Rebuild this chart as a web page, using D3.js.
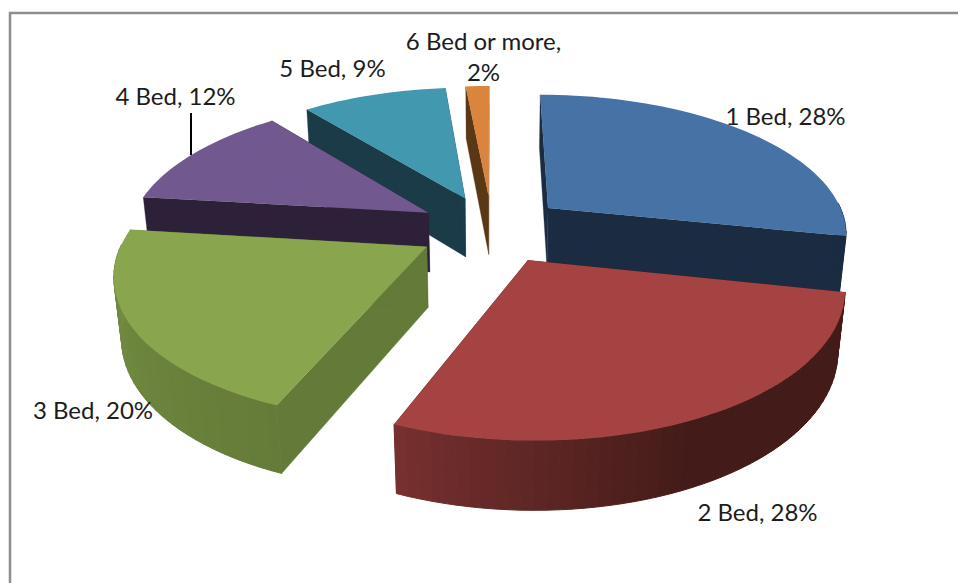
<!DOCTYPE html>
<html><head><meta charset="utf-8">
<style>html,body{margin:0;padding:0;background:#fff;overflow:hidden}svg{display:block}text{font-family:Lato,sans-serif;fill:#1c1c1c}</style>
<script src="https://cdn.jsdelivr.net/npm/d3@7"></script></head><body>
<svg id="c" width="958" height="583"></svg>
<script>
const categories = ["1 Bed","2 Bed","3 Bed","4 Bed","5 Bed","6 Bed or more"];
const shares = [28.3,27.9,20.7,12.3,9.3,1.5];
const printed = [28,28,20,12,9,2];
const topColors = ["#4672a6","#a44342","#89a54e","#71588f","#4298af","#db843d"];
const cutColors = ["#1b2c42","#431b18","#647a38","#2c2139","#1a3b47","#5b3815"];
const rimNear = ["#1b2c42","#763030","#758f42","#2c2139","#1a3b47","#5b3815"];
const rimFar = ["#1b2c42","#431b18","#657b38","#2c2139","#1a3b47","#5b3815"];

// Layout
const W=958,H=583,cx=492,cy=229,R=300,explode=74,depth=69,tilt=0.48,f=1600;
const paintOrder=[5,4,0,3,2,1];
const labelLayout=[
 {x:[785.5],y:[125]},
 {x:[757.5],y:[521]},
 {x:[93],y:[419]},
 {x:[175.5],y:[105]},
 {x:[332.5],y:[77]},
 {x:[483.5,483.5],y:[50,81]}];

const svg=d3.select("#c");
const st=Math.sin(tilt),ct=Math.cos(tilt);
function project(X,Y,Z){
  const u=-Y*st+Z*ct,w=Y*ct+Z*st,s=f/(f-w);
  return [cx+s*X,cy-s*u];
}
const pie=d3.pie().sort(null).value(d=>d)(shares);
const line=d3.line().curve(d3.curveLinear);
const poly=p=>line(p)+"Z";

// frame
svg.append("path").attr("d",line([[10,H],[10,13],[W,13]])).attr("fill","none").attr("stroke","#8e8e8e").attr("stroke-width",2.5);

const slices=pie.map((p,i)=>{
  const mid=(p.startAngle+p.endAngle)/2;
  const ox=explode*Math.sin(mid),oy=-explode*Math.cos(mid);
  const P=(a,r,z)=>project(ox+r*Math.sin(a),oy-r*Math.cos(a),z);
  return {i,a0:p.startAngle,a1:p.endAngle,P};
});

// leader line for 4 Bed sits behind the slice
svg.append("path").attr("d",line([[191,113],[191,155]])).attr("stroke","#000").attr("stroke-width",2);

paintOrder.forEach(i=>{
  const s=slices[i],g=svg.append("g");
  const n=Math.max(4,Math.round((s.a1-s.a0)/(Math.PI/90)));
  const angle=d3.scaleLinear().domain([0,n]).range([s.a0,s.a1]);
  const ks=d3.range(n+1);
  [s.a0,s.a1].forEach(a=>{
    g.append("path").attr("d",poly([s.P(a,0,0),s.P(a,R,0),s.P(a,R,-depth),s.P(a,0,-depth)]))
     .attr("fill",cutColors[i]).attr("stroke",cutColors[i]).attr("stroke-width",.3);
  });
  const shade=d3.scaleLinear().domain([Math.max(s.a0,Math.PI*155/180),s.a1]).range([rimFar[i],rimNear[i]]).clamp(true);
  d3.range(n).filter(k=>Math.cos((angle(k)+angle(k+1))/2)<0.03).forEach(k=>{
    const a=angle(k),b=angle(k+1),c=shade((a+b)/2);
    g.append("path").attr("d",poly([s.P(a,R,0),s.P(b,R,0),s.P(b,R,-depth),s.P(a,R,-depth)]))
     .attr("fill",c).attr("stroke",c).attr("stroke-width",1).attr("stroke-linejoin","round");
  });
  const top=[s.P(s.a0,0,0)].concat(ks.map(k=>s.P(angle(k),R,0)));
  g.append("path").attr("d",poly(top)).attr("fill",topColors[i]);
});

const labelLines=categories.map((c,i)=>{
  const pct=printed[i]+"%";
  return c.length>6?[c+",",pct]:[c+", "+pct];
});
const lab=svg.append("g").attr("font-size",24).attr("text-anchor","middle");
labelLayout.forEach((l,i)=>labelLines[i].forEach((t,j)=>{
  lab.append("text").attr("x",l.x[j]).attr("y",l.y[j]).text(t);
}));
</script></body></html>
